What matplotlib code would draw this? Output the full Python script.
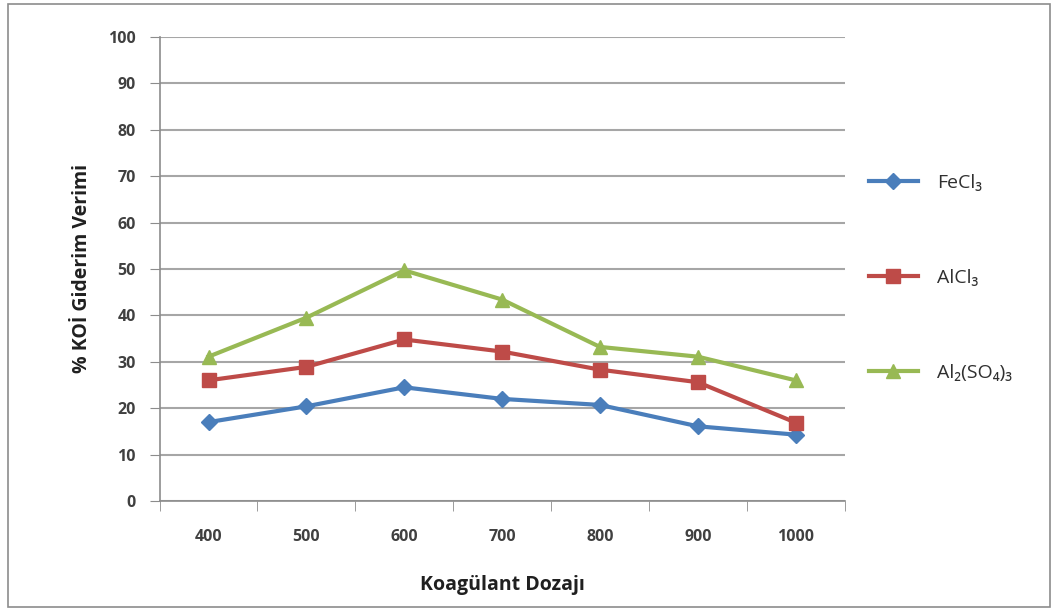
import matplotlib
matplotlib.use("Agg")
import matplotlib.pyplot as plt
from matplotlib.patches import Rectangle

plt.rcParams['font.family'] = ['Open Sans', 'DejaVu Sans']

doses = ["400", "500", "600", "700", "800", "900", "1000"]
fecl3 = [17.0, 20.4, 24.5, 22.0, 20.7, 16.1, 14.3]
alcl3 = [26.0, 28.9, 34.8, 32.2, 28.3, 25.6, 16.9]
al2so43 = [31.1, 39.5, 49.7, 43.4, 33.2, 31.1, 26.0]
series_names = ["FeCl₃", "AlCl₃", "Al₂(SO₄)₃"]
y_ticks = [0, 10, 20, 30, 40, 50, 60, 70, 80, 90, 100]

fig = plt.figure(figsize=(10.57, 6.14), dpi=100)
ax = fig.add_axes([0.151, 0.184, 0.648, 0.756])

# chart frame
fig.patches.append(Rectangle((0.008, 0.012), 0.985, 0.982, transform=fig.transFigure,
                             fill=False, edgecolor="#8c8c8c", linewidth=1.2))

x = list(range(len(doses)))
ax.plot(x, fecl3, color="#4a7ebb", lw=3, marker="D", ms=8, label=series_names[0], zorder=4)
ax.plot(x, alcl3, color="#be4b48", lw=3, marker="s", ms=10, label=series_names[1], zorder=4)
ax.plot(x, al2so43, color="#98b954", lw=3, marker="^", ms=10, label=series_names[2], zorder=4)

ax.set_xlim(-0.5, len(doses) - 0.5)
ax.set_ylim(0, 100)
ax.set_yticks(y_ticks)
ax.set_yticklabels([str(v) for v in y_ticks])
ax.set_xticks(x)
ax.set_xticklabels(doses)
ax.set_xticks([i + 0.5 for i in range(-1, len(doses))], minor=True)

ax.grid(axis="y", color="#a6a6a6", lw=1.5, zorder=0)
ax.set_axisbelow(True)
for s in ["top", "right"]:
    ax.spines[s].set_visible(False)
for s in ["left", "bottom"]:
    ax.spines[s].set_color("#8c8c8c")
    ax.spines[s].set_linewidth(1.2)

ax.tick_params(axis="y", which="major", length=7, color="#8c8c8c", labelsize=11.5,
               labelcolor="#404040", pad=10)
ax.tick_params(axis="x", which="major", length=0, labelsize=11.5, labelcolor="#404040", pad=20)
ax.tick_params(axis="x", which="minor", length=7, color="#8c8c8c")
for lbl in ax.get_yticklabels() + ax.get_xticklabels():
    lbl.set_fontweight("bold")

ax.set_ylabel("% KOİ Giderim Verimi", fontsize=14, fontweight="bold", color="#202020", labelpad=12)
ax.set_xlabel("Koagülant Dozajı", fontsize=14, fontweight="bold", color="#202020", labelpad=22)

leg = ax.legend(loc="upper left", bbox_to_anchor=(1.01, 0.742), frameon=False,
                fontsize=14, labelspacing=3.95, handlelength=2.5, handletextpad=1.0)
for t in leg.get_texts():
    t.set_color("#303030")

fig.savefig("out.png", dpi=100)
